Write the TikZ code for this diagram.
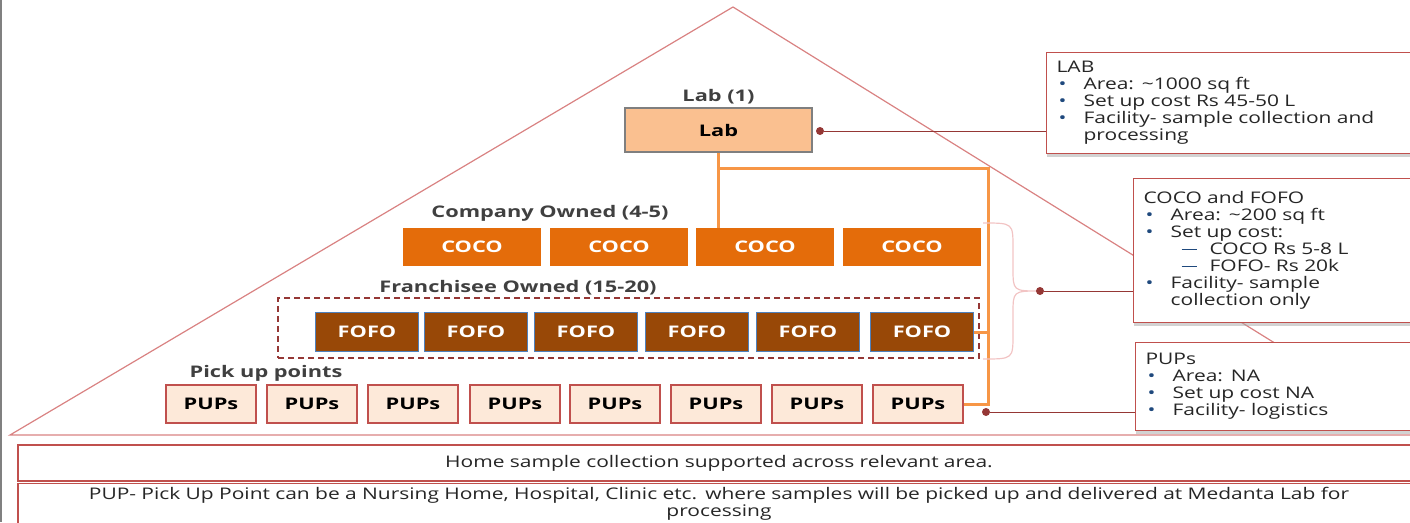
\documentclass[tikz,border=0pt]{standalone}
\usepackage{fontspec}
\setmainfont{Open Sans}[FakeStretch=1.31,BoldFeatures={FakeStretch=1.36}]
\usetikzlibrary{positioning,shadows}

\definecolor{roofred}{RGB}{217,130,130}
\definecolor{infored}{RGB}{192,80,77}
\definecolor{leadred}{RGB}{149,55,53}
\definecolor{bracepink}{RGB}{242,196,196}
\definecolor{labfill}{RGB}{250,192,144}
\definecolor{labgrey}{RGB}{127,127,127}
\definecolor{cocofill}{RGB}{228,108,10}
\definecolor{fofofill}{RGB}{152,72,7}
\definecolor{fofoblue}{RGB}{79,129,189}
\definecolor{pupfill}{RGB}{253,233,217}
\definecolor{feedorange}{RGB}{247,150,70}
\definecolor{bulletblue}{RGB}{31,73,125}
\definecolor{headgrey}{RGB}{64,64,64}
\definecolor{bodygrey}{RGB}{38,38,38}

\newcommand{\blt}{\makebox[27pt][l]{\hspace{2pt}\textcolor{bulletblue}{\textbullet}}}
\newcommand{\subdash}{\hspace*{38pt}\makebox[28pt][l]{\textcolor{bulletblue}{\rule[0.3em]{15pt}{1pt}}}}

\begin{document}
\begin{tikzpicture}
    [
      x=1pt,y=-1pt,
      roof/.style={draw=roofred,line width=1.2pt},
      heading/.style={font=\fontsize{16}{17}\selectfont\bfseries,text=headgrey},
      labbox/.style={draw=labgrey,line width=1.5pt,fill=labfill,minimum width=187pt,minimum height=44pt,font=\fontsize{16}{17}\selectfont\bfseries},
      coco/.style={fill=cocofill,text=white,minimum width=138pt,minimum height=38pt,font=\fontsize{16}{17}\selectfont\bfseries},
      fofo/.style={draw=fofoblue,line width=1.2pt,fill=fofofill,text=white,minimum width=103pt,minimum height=39pt,font=\fontsize{16}{17}\selectfont\bfseries},
      pup/.style={draw=infored,line width=1.5pt,fill=pupfill,minimum width=90pt,minimum height=38pt,font=\fontsize{16}{17}\selectfont\bfseries},
      dashframe/.style={draw=leadred,line width=1.5pt,dash pattern=on 6pt off 4pt,minimum width=701pt,minimum height=60pt},
      info/.style={draw=infored,line width=1.2pt,fill=white,anchor=north west,align=left,inner xsep=10pt,text=bodygrey,
        font=\fontsize{16}{17}\selectfont,drop shadow={shadow xshift=0pt,shadow yshift=-3pt,fill=black!35}},
      note/.style={draw=infored,line width=1.5pt,fill=white,align=center,text width=1380pt,inner xsep=11pt,text=bodygrey,
        font=\fontsize{16}{17}\selectfont},
      feed/.style={draw=feedorange,line width=3pt},
      lead/.style={draw=leadred,line width=1pt},
      leaddot/.style={circle,fill=leadred,inner sep=0pt,minimum size=8pt},
      bracket/.style={draw=bracepink,line width=1.2pt},
    ]

    \useasboundingbox (0,0) rectangle (1410,522);
    \draw [gray,line width=2pt] (1,0) -- (1,522);

    % the roof
    \draw [roof] (733,7) -- (10,435) -- (1423,435) -- cycle;

    % lab
    \node (lab) [labbox,label={[heading]above:Lab (1)}] at (718.5,130) {Lab};

    % company owned
    \node [heading] at (550,213) {Company Owned (4-5)};
    \foreach \x [count=\i] in {472,619,765,912}
      \node (coco\i) [coco] at (\x,247) {COCO};

    % franchisee owned
    \node [heading] at (518,288) {Franchisee Owned (15-20)};
    \node (fofozone) [dashframe] at (628.5,328) {};
    \foreach \x [count=\i] in {367,476,586,697,808,922}
      \node (fofo\i) [fofo] at (\x,332) {FOFO};

    % pick up points
    \node [heading] at (266,373) {Pick up points};
    \foreach \x [count=\i] in {211,312,413,515,615,716,817,918}
      \node (pup\i) [pup] at (\x,404) {PUPs};

    % orange feed lines
    \coordinate (rail) at (988,168);
    \draw [feed] (lab.south) -- (lab.south |- coco3.north);
    \draw [feed] (lab.south |- rail) -- (rail) |- (pup8.east);
    \draw [feed] (fofo6.east) -- (fofo6.east -| rail);

    % brace over coco and fofo rows
    \coordinate (brace-top) at (983,223);
    \coordinate (brace-tip) at (1040,291);
    \coordinate (brace-bot) at (983,359);
    \draw [bracket] (brace-top) .. controls (1013,223) .. (1013,248) -- (1013,268)
      .. controls (1013,291) .. (brace-tip) .. controls (1013,291) .. (1013,314)
      -- (1013,334) .. controls (1013,359) .. (brace-bot);

    % callouts
    \node (labinfo) [info,text width=354pt,minimum height=101pt] at (1046,52)
      {LAB\\
       \blt Area: \textasciitilde1000 sq ft\\
       \blt Set up cost Rs 45-50 L\\
       \blt Facility- sample collection and\\
       \hspace*{27pt}processing};
    \node (cocoinfo) [info,text width=267pt,minimum height=144pt] at (1133,178)
      {COCO and FOFO\\
       \blt Area: \textasciitilde200 sq ft\\
       \blt Set up cost:\\
       \subdash COCO Rs 5-8 L\\
       \subdash FOFO- Rs 20k\\
       \blt Facility- sample\\
       \hspace*{27pt}collection only};
    \node (pupinfo) [info,text width=265pt,minimum height=88pt] at (1135,342)
      {PUPs\\
       \blt Area: NA\\
       \blt Set up cost NA\\
       \blt Facility- logistics};

    \node (labdot) [leaddot] at (820,131) {};
    \draw [lead] (labdot) -- (labdot -| labinfo.west);
    \node (cocodot) [leaddot] at (brace-tip) {};
    \draw [lead] (cocodot) -- (cocodot -| cocoinfo.west);
    \node (pupdot) [leaddot] at (986,412) {};
    \draw [lead] (pupdot) -- (pupdot -| pupinfo.west);

    % notes under the roof
    \node (home) [note,minimum height=36pt] at (719,463)
      {Home sample collection supported across relevant area.};
    \node (pupnote) [note,minimum height=35pt] at (719,503.5)
      {PUP- Pick Up Point can be a Nursing Home, Hospital, Clinic etc. where samples will be picked up and delivered at Medanta Lab for\\ processing};

\end{tikzpicture}
\end{document}
